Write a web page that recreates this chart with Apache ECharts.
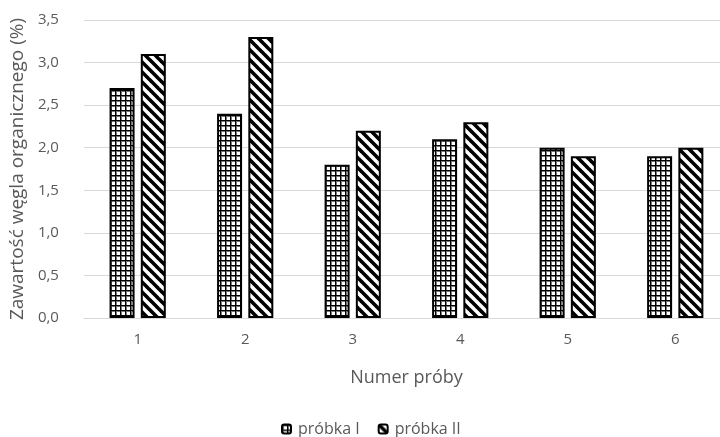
<!DOCTYPE html>
<html>
<head>
<meta charset="utf-8">
<script src="https://cdn.jsdelivr.net/npm/echarts@6/dist/echarts.min.js"></script>
<style>
  html, body { margin: 0; padding: 0; background: #fff; overflow: hidden; }
  #chart { width: 740px; height: 437px; }
</style>
</head>
<body>
<div id="chart"></div>
<script>
// Sample numbers and measured organic carbon content (%)
const categories = ['1', '2', '3', '4', '5', '6'];
const probkaI = [2.7, 2.4, 1.8, 2.1, 2.0, 1.9];
const probkaII = [3.1, 3.3, 2.2, 2.3, 1.9, 2.0];
const seriesNames = ['próbka I', 'próbka II'];

const FONT = '"Open Sans", "Noto Sans", sans-serif';
const TEXT = '#595959';

// Small square grid fill
function gridPattern() {
  const s = 5;
  const c = document.createElement('canvas');
  c.width = s; c.height = s;
  const g = c.getContext('2d');
  g.fillStyle = '#fff';
  g.fillRect(0, 0, s, s);
  g.fillStyle = '#777';
  g.fillRect(0, 1, s, 1);
  g.fillRect(1, 0, 1, s);
  g.fillStyle = '#000';
  g.fillRect(0, 0, s, 1);
  g.fillRect(0, 0, 1, s);
  return c;
}

// Wide diagonal stripes running down to the right
function stripePattern() {
  const s = 10;
  const c = document.createElement('canvas');
  c.width = s; c.height = s;
  const g = c.getContext('2d');
  g.fillStyle = '#fff';
  g.fillRect(0, 0, s, s);
  g.strokeStyle = '#000';
  g.lineWidth = 3.6;
  for (let k = -1; k <= 1; k++) {
    g.beginPath();
    g.moveTo(k * s - s, -s);
    g.lineTo(k * s + 2 * s, 2 * s);
    g.stroke();
  }
  return c;
}

const chart = echarts.init(document.getElementById('chart'), null, { renderer: 'canvas' });

const fmt = v => v.toFixed(1).replace('.', ',');

chart.setOption({
  animation: false,
  backgroundColor: '#fff',
  textStyle: { fontFamily: FONT, color: TEXT },
  grid: { left: 83, top: 20, width: 646, height: 298, containLabel: false },
  legend: {
    data: seriesNames,
    left: 281,
    top: 421,
    padding: 0,
    itemWidth: 9,
    itemHeight: 9,
    itemGap: 18,
    textStyle: { fontFamily: FONT, fontSize: 16, color: TEXT, padding: [0, 0, 0, 2] }
  },
  xAxis: {
    type: 'category',
    data: categories,
    name: 'Numer próby',
    nameLocation: 'middle',
    nameGap: 51,
    nameTextStyle: { fontFamily: FONT, fontSize: 18, color: TEXT },
    axisLine: { lineStyle: { color: '#d9d9d9', width: 1 } },
    axisTick: { show: false },
    axisLabel: { fontFamily: FONT, fontSize: 15, color: TEXT, margin: 14 }
  },
  yAxis: {
    type: 'value',
    min: 0,
    max: 3.5,
    interval: 0.5,
    name: 'Zawartość węgla organicznego (%)',
    nameLocation: 'middle',
    nameGap: 52,
    nameTextStyle: { fontFamily: FONT, fontSize: 19, color: TEXT },
    axisLine: { show: false },
    axisTick: { show: false },
    splitLine: { lineStyle: { color: '#d9d9d9', width: 1 } },
    axisLabel: { fontFamily: FONT, fontSize: 15, color: TEXT, margin: 25, formatter: fmt }
  },
  series: [
    {
      name: seriesNames[0],
      type: 'bar',
      data: probkaI,
      barWidth: 25,
      barGap: '25%',
      itemStyle: {
        color: { image: gridPattern(), repeat: 'repeat' },
        borderColor: '#000',
        borderWidth: 2
      }
    },
    {
      name: seriesNames[1],
      type: 'bar',
      data: probkaII,
      barWidth: 25,
      barGap: '25%',
      itemStyle: {
        color: { image: stripePattern(), repeat: 'repeat' },
        borderColor: '#000',
        borderWidth: 2
      }
    }
  ]
});
</script>
</body>
</html>
